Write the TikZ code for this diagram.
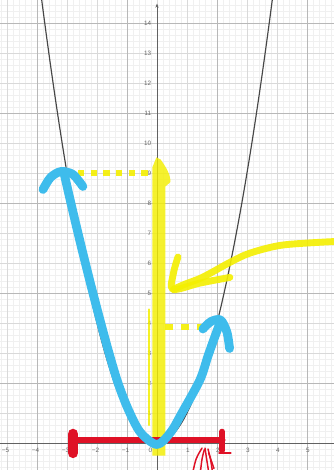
\documentclass[tikz,border=0pt]{standalone}
\usepackage{fontspec}
\setmainfont{Liberation Sans}
\usetikzlibrary{arrows.meta}
\definecolor{hlblue}{HTML}{3EBCEC}
\definecolor{hlyellow}{HTML}{F4EF00}
\definecolor{hlred}{HTML}{DF1126}
\begin{document}
\begin{tikzpicture}[x=1cm,y=1cm,
  minorgrid/.style={line width=0.3pt, draw=black!6},
  midgrid/.style={line width=0.4pt, draw=black!15},
  majorgrid/.style={line width=0.6pt, draw=black!28},
  axisline/.style={line width=0.8pt, draw=black!62},
  curveline/.style={line width=1.1pt, draw=black!72},
  lbl/.style={font=\fontsize{6}{7}\selectfont, text=black!60, inner sep=0.5pt},
  bluestroke/.style={draw=hlblue, line width=8.3pt, line cap=round, line join=round},
  yellowstroke/.style={draw=hlyellow, line width=6.5pt, line cap=round, line join=round, opacity=0.9},
  yellowdash/.style={draw=hlyellow, line width=5pt, dash pattern=on 6pt off 6pt, opacity=0.9},
  redbar/.style={draw=hlred, line width=6.5pt, line cap=round},
  redthin/.style={draw=hlred, line width=1.4pt, line cap=round}]
\useasboundingbox (-5.233,-0.9) rectangle (5.9,14.767);
\begin{scope}
\clip (-5.233,-0.9) rectangle (5.9,14.767);
\fill[white] (-5.233,-0.9) rectangle (5.9,14.767);
\draw[minorgrid, step=0.2] (-5.4,-1) grid (6,15);
\draw[midgrid, step=1] (-5.4,-1) grid (6,15);
\foreach \x in {-4,-1,2,5} \draw[majorgrid] (\x,-1) -- (\x,15);
\foreach \y in {-1,2,5,8,11,14} \draw[majorgrid] (-5.4,\y) -- (6,\y);
% axes
\draw[axisline] (-5.3,0) -- (6,0);
\draw[axisline, -{Stealth[length=4pt,width=3pt]}] (0,-1) -- (0,14.65);
% labels
\foreach \k in {1,...,14} \node[lbl, anchor=east] (ylab\k) at (-0.17,\k) {\k};
\node[lbl] (zerolab) at (-0.22,-0.25) {0};
\foreach \k in {1,...,5} {
  \node[lbl] (xlabp\k) at (\k+0.03,-0.25) {\k};
  \node[lbl] (xlabm\k) at (-\k-0.05,-0.25) {−\k};
}
% parabola
\draw[curveline] plot[domain=-3.9:3.9, samples=121, smooth] (\x,{\x*\x});
% yellow annotations
\fill[hlyellow, opacity=0.82] (-0.15,-0.42) -- (-0.15,9.2) -- (-0.02,9.52) -- (0.12,9.45)
   .. controls (0.3,9.2) and (0.45,8.95) .. (0.45,8.7) -- (0.28,8.55) -- (0.28,-0.42) -- cycle;
\draw[hlyellow, line width=2.2pt, opacity=0.85, line cap=round] (-0.27,4.45) -- (-0.27,0.6);
\draw[yellowdash] (-2.63,9.0) -- (-0.18,9.0);
\draw[yellowdash, dash pattern=on 7pt off 8pt] (0.28,3.87) -- (1.65,3.87);
\draw[yellowstroke] plot[smooth] coordinates {(6.0,6.72) (4.2,6.6) (3.1,6.33) (2.43,6.02) (1.53,5.53) (0.87,5.27) (0.55,5.12)};
\draw[yellowstroke] plot[smooth] coordinates {(0.7,6.2) (0.55,5.67) (0.53,5.12) (1.43,5.33) (2.43,5.52)};
% red annotations
\draw[redbar] (-2.85,0.1) -- (2.17,0.1);
\draw[hlred, line width=10pt, line cap=round] (-2.8,-0.33) -- (-2.8,0.3);
\draw[hlred, line width=5.5pt, line cap=round] (2.17,-0.25) -- (2.17,0.38);
\draw[hlred, line width=2.5pt, line cap=round] (2.08,-0.33) -- (2.45,-0.33);
\draw[redthin] (1.2,-0.95) .. controls (1.3,-0.5) .. (1.5,-0.17);
\draw[redthin] (1.45,-0.95) .. controls (1.5,-0.5) .. (1.58,-0.22);
\draw[redthin] (1.6,-0.17) .. controls (1.65,-0.5) .. (1.72,-0.95);
\draw[redthin] (1.7,-0.2) .. controls (1.78,-0.5) .. (1.85,-0.95);
\draw[redthin] (1.72,-0.33) -- (1.9,-0.85);
% blue annotations
\draw[bluestroke] plot[smooth] coordinates {(-3.8,8.45) (-3.55,8.85) (-3.2,9.05) (-2.8,8.95) (-2.47,8.55)};
\draw[bluestroke] plot[smooth] coordinates {(-3.1,9.0) (-2.8,7.7) (-2.5,6.45) (-2.2,5.25) (-1.9,4.1) (-1.6,3.0) (-1.3,2.0) (-0.95,1.1) (-0.55,0.35) (0,-0.05) (0.45,0.35) (0.83,1.0) (1.43,2.1) (1.7,2.9) (1.95,3.6) (2.12,4.05)};
\draw[bluestroke] plot[smooth] coordinates {(1.53,3.8) (1.8,4.05) (2.12,4.1) (2.33,3.7) (2.42,3.15)};
\end{scope}
\end{tikzpicture}
\end{document}
